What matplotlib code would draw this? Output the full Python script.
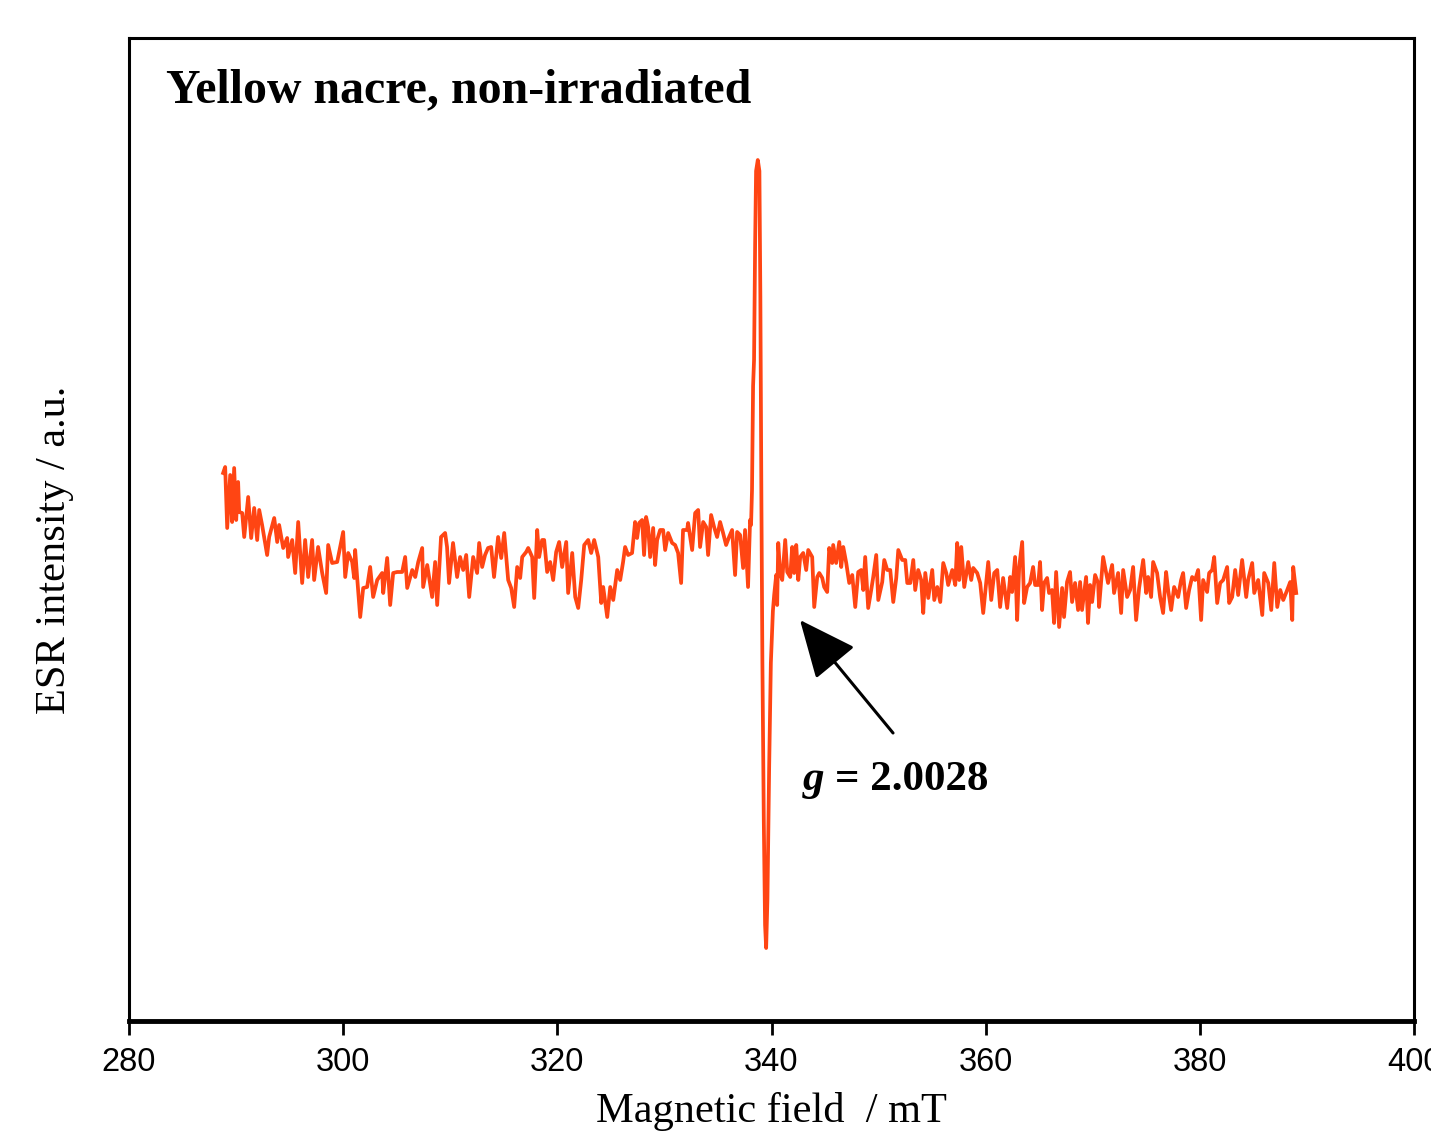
import matplotlib
matplotlib.use("Agg")
import matplotlib.pyplot as plt

# ==============================
# DATA
# ==============================
field_mT = [
    288.79, 288.98, 289.17, 289.45, 289.63, 289.82, 290.01, 290.19, 290.29, 290.57,
    290.76, 291.13, 291.41, 291.69, 291.97, 292.16, 292.43, 292.90, 293.09, 293.56,
    293.84, 294.02, 294.40, 294.77, 294.86, 295.24, 295.52, 295.80, 296.17, 296.45,
    296.73, 297.10, 297.29, 297.66, 298.04, 298.41, 298.60, 298.97, 299.44, 300.00,
    300.19, 300.47, 300.84, 301.03, 301.12, 301.31, 301.59, 301.87, 302.24, 302.52,
    302.80, 303.18, 303.64, 303.74, 304.11, 304.39, 304.67, 305.04, 305.51, 305.79,
    305.98, 306.45, 306.73, 307.01, 307.38, 307.47, 307.85, 308.31, 308.59, 308.78,
    309.14, 309.52, 309.70, 309.89, 310.26, 310.64, 310.92, 311.21, 311.49, 311.77,
    312.14, 312.51, 312.70, 312.98, 313.25, 313.53, 313.82, 314.09, 314.47, 314.76,
    315.04, 315.41, 315.69, 315.97, 316.25, 316.53, 316.72, 317.09, 317.28, 317.65,
    317.84, 318.12, 318.30, 318.58, 318.77, 319.05, 319.33, 319.61, 319.89, 320.17,
    320.45, 320.83, 321.01, 321.39, 321.67, 321.95, 322.23, 322.51, 322.88, 323.16,
    323.44, 323.82, 324.10, 324.28, 324.66, 324.94, 325.22, 325.59, 325.87, 326.14,
    326.33, 326.61, 326.98, 327.26, 327.45, 327.64, 327.92, 328.10, 328.29, 328.48,
    328.67, 328.95, 329.13, 329.32, 329.60, 329.88, 330.07, 330.35, 330.72, 331.00,
    331.28, 331.56, 331.74, 332.12, 332.21, 332.59, 332.87, 333.15, 333.33, 333.62,
    333.90, 334.08, 334.36, 334.64, 334.92, 335.20, 335.48, 335.76, 336.04, 336.32,
    336.60, 336.79, 337.07, 337.35, 337.53, 337.81, 338.00,
    # main line
    338.09, 338.18, 338.28, 338.37, 338.47, 338.56, 338.72, 338.87, 338.96, 339.06,
    339.15, 339.28, 339.40, 339.50, 339.62, 339.78, 339.94, 340.13, 340.25, 340.44,
    340.53, 340.63, 340.81, 341.00,
    341.28, 341.47, 341.75, 341.93, 342.12, 342.31, 342.50, 342.68, 342.96, 343.24,
    343.43, 343.80, 343.99, 344.27, 344.46, 344.74, 344.92, 345.20, 345.39, 345.67,
    345.76, 346.04, 346.33, 346.51, 346.70, 346.98, 347.26, 347.54, 347.82, 348.10,
    348.38, 348.57, 348.75, 349.03, 349.31, 349.50, 349.78, 349.97, 350.34, 350.53,
    350.81, 351.09, 351.37, 351.65, 351.84, 352.21, 352.49, 352.68, 352.96, 353.24,
    353.42, 353.70, 353.98, 354.17, 354.36, 354.64, 355.01, 355.20, 355.48, 355.76,
    356.04, 356.32, 356.50, 356.88, 357.16, 357.34, 357.53, 357.72, 358.00, 358.37,
    358.65, 358.84, 359.21, 359.49, 359.77, 360.05, 360.24, 360.52, 360.80, 361.08,
    361.35, 361.63, 362.01, 362.29, 362.47, 362.75, 362.94, 363.13, 363.41, 363.59,
    363.87, 364.15, 364.43, 364.62, 364.90, 365.08, 365.27, 365.46, 365.74, 365.92,
    366.20, 366.39, 366.58, 366.86, 367.14, 367.32, 367.60, 367.88, 368.07, 368.35,
    368.63, 368.82, 369.00, 369.38, 369.56, 369.75, 369.94, 370.22, 370.50, 370.59,
    370.97, 371.25, 371.43, 371.81, 371.99, 372.37, 372.65, 372.84, 373.21, 373.49,
    373.77, 374.05, 374.33, 374.71, 374.99, 375.17, 375.45, 375.64, 376.01, 376.29,
    376.57, 376.85, 377.04, 377.32, 377.60, 377.97, 378.25, 378.44, 378.72, 379.00,
    379.28, 379.56, 379.84, 380.12, 380.31, 380.68, 380.87, 381.15, 381.34, 381.62,
    381.90, 382.18, 382.55, 382.74, 383.02, 383.30, 383.58, 383.95, 384.33, 384.51,
    384.89, 385.08, 385.45, 385.83, 386.01, 386.39, 386.67, 386.95, 387.23, 387.51,
    387.79, 388.16, 388.44, 388.63, 388.72, 389.00,
]

intensity = [
    127, 133, 72, 125, 78, 132, 80, 118, 88, 87,
    63, 103, 62, 92, 60, 90, 75, 45, 63, 82,
    58, 75, 52, 62, 43, 60, 27, 78, 17, 60,
    23, 60, 20, 53, 27, 7, 55, 37, 38, 68,
    23, 47, 38, 22, 50, 22, -17, 12, 13, 33,
    3, 20, 27, 7, 42, -5, 27, 28, 28, 43,
    12, 30, 23, 38, 52, 13, 35, 3, 38, -5,
    63, 67, 53, 17, 57, 23, 43, 30, 45, 3,
    43, 27, 57, 33, 45, 52, 53, 23, 63, 42,
    67, 20, 12, -7, 33, 22, 43, 48, 52, 43,
    2, 70, 43, 60, 60, 28, 38, 20, 48, 58,
    33, 58, 7, 47, 3, -8, 20, 55, 60, 47,
    60, 43, -3, 13, -17, 13, 0, 30, 20, 38,
    53, 45, 47, 78, 62, 77, 80, 45, 83, 73,
    43, 72, 35, 60, 70, 70, 50, 67, 57, 55,
    47, 17, 70, 70, 77, 50, 87, 90, 53, 78,
    73, 45, 85, 73, 63, 78, 67, 55, 63, 70,
    25, 68, 65, 32, 70, 13, 80,
    # main line
    75, 110, 214, 240, 355, 429, 440, 429, 303, 94,
    -63, -220, -325, -348, -299, -168, -63, -11, 5, 25,
    -5, 57, 27, 20,
    60, 28, 23, 53, 27, 55, 20, 43, 47, 30,
    50, 43, -7, 23, 27, 22, 13, 8, 52, 37,
    55, 37, 58, 33, 53, 37, 17, 25, -7, 28,
    30, 10, 43, -8, 10, 23, 45, 0, 18, 40,
    30, 30, -2, 22, 50, 40, 40, 17, 17, 40,
    10, 30, 20, -13, 27, 2, 30, 0, 13, -2,
    37, 27, 15, 30, 15, 57, 20, 53, 13, 38,
    20, 32, 27, 17, -13, 18, 38, 0, 27, 30,
    -7, 22, -8, 23, 8, 43, -20, 33, 58, -3,
    13, 17, 33, 15, 15, 38, -10, 17, 22, 7,
    10, -23, 28, -27, 12, -17, 18, 28, -2, 17,
    -10, 18, -10, 23, -23, 15, -2, 25, 17, -7,
    43, 27, 17, 35, 7, 27, -13, 30, 3, 10,
    33, -20, 12, 40, 7, 23, 3, 38, 27, 3,
    -13, 28, 10, -10, 13, 3, 20, 27, -8, 10,
    23, 20, 30, -20, 20, 8, 27, 30, 43, -3,
    17, 20, 33, -3, 3, 30, 5, 40, 3, 20,
    37, 7, 20, -15, 27, 17, -10, 37, -7, 10,
    0, 10, 18, -20, 33, 7,
]

x_ticks = [280, 300, 320, 340, 360, 380, 400]

title = "Yellow nacre, non-irradiated"
g_value = "= 2.0028"

# ==============================
# CHART
# ==============================
serif = ["Liberation Serif", "DejaVu Serif"]
sans = ["Liberation Sans", "DejaVu Sans"]

fig = plt.figure(figsize=(14.31, 11.33), dpi=100)
ax = fig.add_axes([129 / 1431, 1 - 1021 / 1133, (1414 - 129) / 1431, (1021 - 38) / 1133])

ax.plot(field_mT, intensity, color="#FF4513", lw=2.7, solid_joinstyle="round")

ax.set_xlim(280, 400)
ax.set_ylim(-421, 562)
ax.set_xticks(x_ticks)
ax.set_yticks([])
ax.tick_params(axis="x", direction="out", length=10, width=2, labelsize=23.5, pad=9)
for lbl in ax.get_xticklabels():
    lbl.set_family(sans)

for side in ["left", "right", "top"]:
    ax.spines[side].set_linewidth(2.2)
ax.spines["bottom"].set_linewidth(3.5)

ax.set_xlabel("Magnetic field  / mT", family=serif, fontsize=30.5, labelpad=10)
fig.text(55 / 1431, 1 - 550 / 1133, "ESR intensity / a.u.", family=serif, fontsize=30.5,
         rotation=90, ha="center", va="center")

ax.text(0.029, 0.935, title, transform=ax.transAxes, family=serif, fontsize=34.5,
        fontweight="bold", ha="left", va="baseline")

# annotation arrow pointing at the line
ax.annotate("", xy=(342.66, -20), xytext=(351.35, -133),
            arrowprops=dict(arrowstyle="-|>,head_length=1.8,head_width=0.8",
                            mutation_scale=20, lw=2.2, color="black",
                            shrinkA=0, shrinkB=0))
ax.text(342.94, -190, "g", family=serif, fontsize=31, fontweight="bold",
        style="italic", ha="left", va="baseline")
ax.text(345.9, -190, g_value, family=serif, fontsize=31, fontweight="bold",
        ha="left", va="baseline")

fig.savefig("out.png", dpi=100)
